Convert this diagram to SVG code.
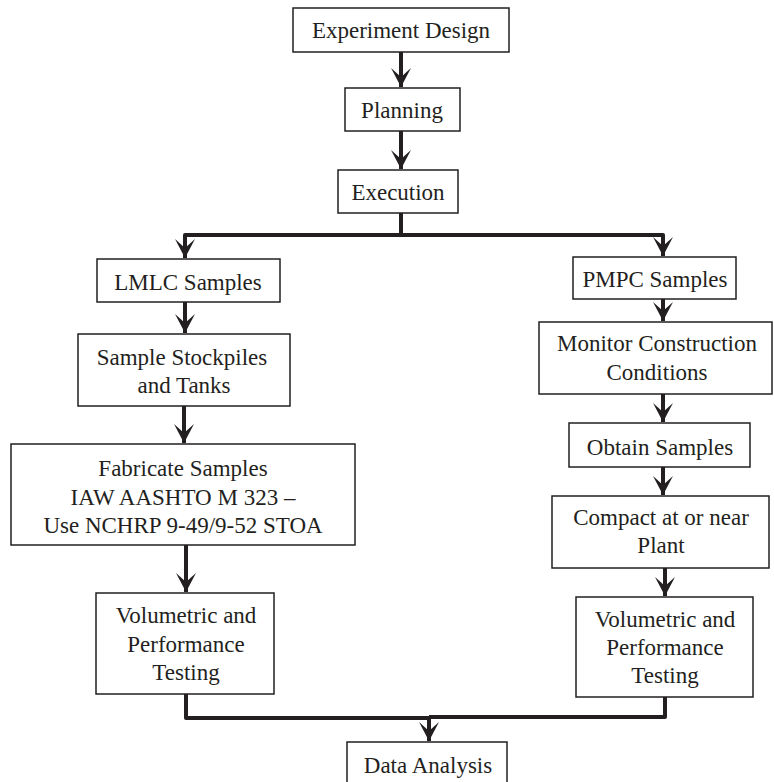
<svg xmlns="http://www.w3.org/2000/svg" width="774" height="782" viewBox="0 0 774 782">
<style>
.box{fill:#fff;stroke:#231f20;stroke-width:1.5}
.t{font-family:"Liberation Serif","Times New Roman",serif;font-size:23px;fill:#231f20;text-anchor:middle}
.c{fill:none;stroke:#231f20;stroke-width:4;stroke-linejoin:round}
</style>
<defs>
<marker id="ah" markerUnits="userSpaceOnUse" markerWidth="22" markerHeight="24" viewBox="-20 -12 22 24" refX="0" refY="0" orient="auto" overflow="visible">
<path d="M0,0 L-19,-10 L-10,0 L-19,10 Z" fill="#231f20"/>
</marker>
</defs>
<rect width="774" height="782" fill="#fff"/>
<g id="connectors">
<path class="c" d="M401,52 V87" marker-end="url(#ah)"/>
<path class="c" d="M401,131 V169" marker-end="url(#ah)"/>
<path class="c" d="M401,213 V235 H185 V258" marker-end="url(#ah)"/>
<path class="c" d="M401,235 H663 V256" marker-end="url(#ah)"/>
<path class="c" d="M185,302 V333" marker-end="url(#ah)"/>
<path class="c" d="M184,406 V443" marker-end="url(#ah)"/>
<path class="c" d="M186,545 V592" marker-end="url(#ah)"/>
<path class="c" d="M663,299 V321" marker-end="url(#ah)"/>
<path class="c" d="M663,394 V422" marker-end="url(#ah)"/>
<path class="c" d="M663,467 V495" marker-end="url(#ah)"/>
<path class="c" d="M665,568 V596" marker-end="url(#ah)"/>
<path class="c" d="M186,694 V718 H429 V741" marker-end="url(#ah)"/>
<path class="c" d="M665,697 V717 H429"/>
</g>
<g id="experiment-design"><rect class="box" x="293" y="8" width="216" height="44"/><text class="t" x="401" y="38">Experiment Design</text></g>
<g id="planning"><rect class="box" x="345" y="88" width="115" height="43"/><text class="t" x="402" y="118">Planning</text></g>
<g id="execution"><rect class="box" x="338" y="170" width="120" height="43"/><text class="t" x="398" y="200">Execution</text></g>
<g id="lmlc"><rect class="box" x="97" y="259" width="183" height="43"/><text class="t" x="188" y="290">LMLC Samples</text></g>
<g id="stockpiles"><rect class="box" x="78" y="334" width="212" height="72"/><text class="t" x="182" y="365">Sample Stockpiles</text><text class="t" x="184" y="393">and Tanks</text></g>
<g id="fabricate"><rect class="box" x="11" y="444" width="344" height="101"/><text class="t" x="183" y="476">Fabricate Samples</text><text class="t" x="183" y="505">IAW AASHTO M 323 –</text><text class="t" x="183" y="533">Use NCHRP 9-49/9-52 STOA</text></g>
<g id="vol-left"><rect class="box" x="96" y="593" width="178" height="101"/><text class="t" x="186" y="623">Volumetric and</text><text class="t" x="186" y="652">Performance</text><text class="t" x="186" y="680">Testing</text></g>
<g id="pmpc"><rect class="box" x="573" y="257" width="163" height="42"/><text class="t" x="655" y="287">PMPC Samples</text></g>
<g id="monitor"><rect class="box" x="539" y="322" width="233" height="72"/><text class="t" x="657" y="351">Monitor Construction</text><text class="t" x="657" y="380">Conditions</text></g>
<g id="obtain"><rect class="box" x="569" y="423" width="181" height="44"/><text class="t" x="660" y="455">Obtain Samples</text></g>
<g id="compact"><rect class="box" x="552" y="496" width="217" height="72"/><text class="t" x="661" y="525">Compact at or near</text><text class="t" x="661" y="553">Plant</text></g>
<g id="vol-right"><rect class="box" x="576" y="597" width="177" height="100"/><text class="t" x="665" y="627">Volumetric and</text><text class="t" x="665" y="655">Performance</text><text class="t" x="665" y="683">Testing</text></g>
<g id="data-analysis"><rect class="box" x="347" y="742" width="160" height="50"/><text class="t" x="428" y="773">Data Analysis</text></g>
</svg>
